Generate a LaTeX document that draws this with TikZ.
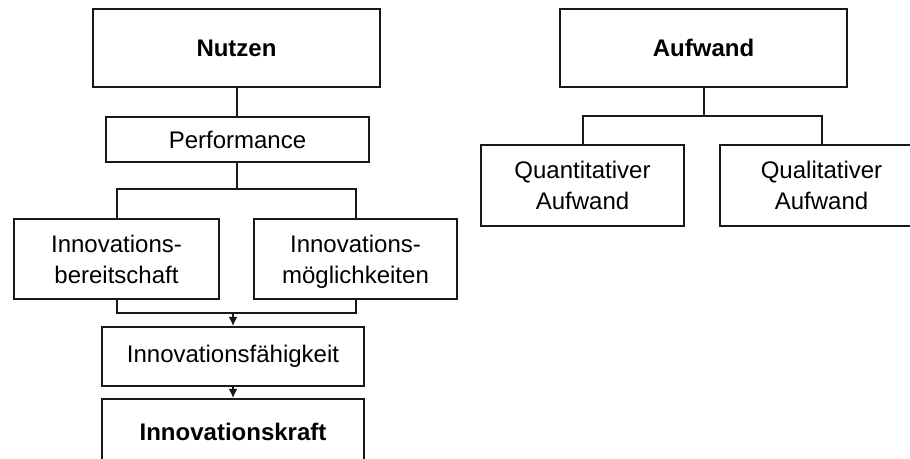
\documentclass[tikz,border=0pt]{standalone}
\usepackage{fontspec}
\setmainfont{Liberation Sans}
\usetikzlibrary{arrows.meta}
\begin{document}
\begin{tikzpicture}[x=0.5pt,y=-0.5pt,
  box/.style={draw=black!90,line width=1pt,rectangle,align=center,inner sep=0pt,
    font=\fontsize{12}{15.5}\selectfont},
  boldbox/.style={box,font=\fontsize{12}{15.5}\selectfont\bfseries},
  link/.style={draw=black!90,line width=1pt},
  arrowlink/.style={link,-{Latex[length=4.5pt,width=4.5pt]}}]
  \fill[white] (0,0) rectangle (910,459);
  \useasboundingbox (0,0) rectangle (910,459);
  \clip (0,0) rectangle (910,459);

  % benefit side
  \node[boldbox,minimum width=143.5pt,minimum height=39pt] (nutzen) at (236.5,48) {Nutzen};
  \node[box,minimum width=131.5pt,minimum height=22.5pt] (perf) at (237.5,139.5) {Performance};
  \node[box,minimum width=102.5pt,minimum height=40pt] (bereit) at (116.5,259) {Innovations-\\bereitschaft};
  \node[box,minimum width=101.5pt,minimum height=40pt] (moeg) at (355.5,259) {Innovations-\\\raisebox{0pt}[\height][0pt]{möglichkeiten}};
  \node[box,minimum width=131pt,minimum height=29.5pt] (faehig) at (233,356.5) {Innovationsfähigkeit};
  \node[boldbox,minimum width=131pt,minimum height=33pt] (kraft) at (233,432) {Innovationskraft};

  % effort side
  \node[boldbox,minimum width=143.5pt,minimum height=39pt] (aufwand) at (703.5,48) {Aufwand};
  \node[box,minimum width=101.5pt,minimum height=40.5pt] (quant) at (582.5,185.5) {Quantitativer\\Aufwand};
  \node[box,minimum width=101.5pt,minimum height=40.5pt] (qual) at (821.5,185.5) {Qualitativer\\Aufwand};

  % tree connectors
  \coordinate (fork1) at (236.5,189);
  \coordinate (join) at (233,313);
  \coordinate (fork2) at (703.5,116);

  \draw[link] (nutzen.south) -- (nutzen.south |- perf.north);
  \draw[link] (nutzen.south |- perf.south) -- (fork1);
  \draw[link] (bereit.north) |- (fork1) -| (moeg.north);
  \draw[link] (bereit.south) |- (join) -| (moeg.south);
  \draw[arrowlink] (join) -- (faehig.north);
  \draw[arrowlink] (faehig.south) -- (kraft.north);

  \draw[link] (aufwand.south) -- (fork2);
  \draw[link] (quant.north) |- (fork2) -| (qual.north);
\end{tikzpicture}
\end{document}
